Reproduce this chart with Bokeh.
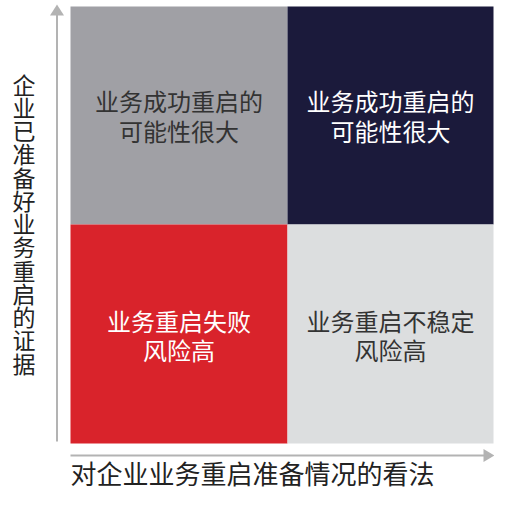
from bokeh.plotting import figure
from bokeh.models import Range1d, ColumnDataSource
from bokeh.core.properties import value
from bokeh.embed import file_html
from bokeh.resources import INLINE

# ---- data ----
quadrant_col = [0, 1, 0, 1]          # 0 = left, 1 = right
quadrant_row = [0, 0, 1, 1]          # 0 = top, 1 = bottom
quadrant_line1 = ["业务成功重启的", "业务成功重启的", "业务重启失败", "业务重启不稳定"]
quadrant_line2 = ["可能性很大", "可能性很大", "风险高", "风险高"]
x_label = "对企业业务重启准备情况的看法"
y_label = "企业已准备好业务重启的证据"

# ---- styles / layout ----
FONT = "Noto Sans CJK SC"
fill_colors = ["#a0a0a5", "#1b1a3b", "#d9232b", "#dcdedf"]
text_colors = ["#333333", "#ffffff", "#ffffff", "#333333"]
W, H = 494, 490
col_edges = [70, 287, 493]
row_edges = [6, 224, 443]
line1_y = [100, 320]
line2_y = [130, 349]
axis_color = "#b3b3b3"

p = figure(width=W, height=H, output_backend="svg", toolbar_location=None,
           x_range=Range1d(0, W), y_range=Range1d(H, 0),
           min_border=0, outline_line_color=None)
p.axis.visible = False
p.grid.visible = False
p.background_fill_color = "white"
p.border_fill_color = "white"

left = [col_edges[c] for c in quadrant_col]
right = [col_edges[c + 1] for c in quadrant_col]
top = [row_edges[r] for r in quadrant_row]
bottom = [row_edges[r + 1] for r in quadrant_row]
cx = [(l + r) / 2 for l, r in zip(left, right)]

src = ColumnDataSource(dict(left=left, right=right, top=top, bottom=bottom,
                            fill=fill_colors, tcol=text_colors, cx=cx,
                            l1=quadrant_line1, l2=quadrant_line2,
                            y1=[line1_y[r] for r in quadrant_row],
                            y2=[line2_y[r] for r in quadrant_row]))
p.quad(left="left", right="right", top="top", bottom="bottom", source=src,
       fill_color="fill", line_color=None)
for ty, tt in (("y1", "l1"), ("y2", "l2")):
    p.text(x="cx", y=ty, text=tt, source=src, text_color="tcol",
           text_font=value(FONT), text_font_size="24px",
           text_align="center", text_baseline="middle")

# axes arrows
p.line([56.5, 56.5], [441, 14], line_color=axis_color, line_width=2)
p.patch([49.5, 56.5, 63.5], [15, 4, 15], fill_color=axis_color, line_color=None)
p.line([70, 484], [455, 455], line_color=axis_color, line_width=2)
p.patch([483, 494, 483], [448.5, 455, 461.5], fill_color=axis_color, line_color=None)

# y label (stacked vertical characters)
chars = list(y_label)
step = 23.25
y0 = 83
p.text(x=[23.5] * len(chars), y=[y0 + i * step for i in range(len(chars))],
       text=chars, text_color="#222222", text_font=value(FONT),
       text_font_size="23px", text_align="center", text_baseline="middle")

# x label
p.text(x=[70], y=[472], text=[x_label], text_color="#222222",
       text_font=value(FONT), text_font_size="26px",
       text_align="left", text_baseline="middle")

open("out.html", "w").write(file_html(p, INLINE))
